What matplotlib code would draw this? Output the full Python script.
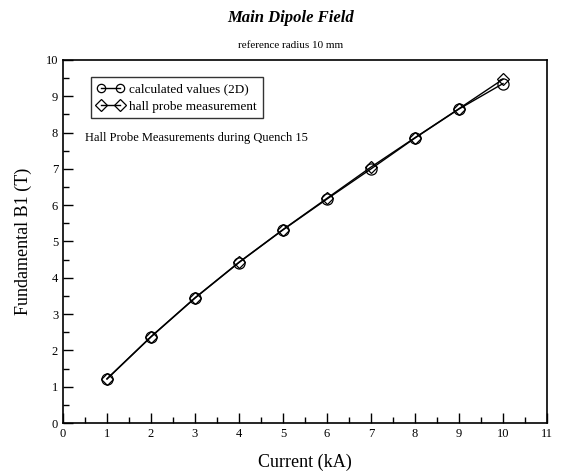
import matplotlib
matplotlib.use("Agg")
import matplotlib.pyplot as plt
from matplotlib.ticker import MultipleLocator

plt.rcParams["font.family"] = ["Liberation Serif", "DejaVu Serif"]

current_ka = [1, 2, 3, 4, 5, 6, 7, 8, 9, 10]
calc_b1 = [1.21, 2.37, 3.44, 4.42, 5.32, 6.17, 7.0, 7.85, 8.65, 9.35]
hall_b1 = [1.22, 2.38, 3.45, 4.43, 5.33, 6.19, 7.05, 7.86, 8.66, 9.47]

fig = plt.figure(figsize=(5.81, 4.75), dpi=100)
ax = fig.add_axes([63 / 581, 1 - 423 / 475, 484 / 581, 363 / 475])

ax.plot(current_ka, calc_b1, color="black", lw=1.0, marker="o", ms=8,
        mfc="none", mec="black", mew=0.9, label="calculated values (2D)")
ax.plot(current_ka, hall_b1, color="black", lw=1.0, marker="D", ms=6,
        mfc="none", mec="black", mew=0.9, label="hall probe measurement")

ax.set_xlim(0, 11)
ax.set_ylim(0, 10)
ax.xaxis.set_major_locator(MultipleLocator(1))
ax.xaxis.set_minor_locator(MultipleLocator(0.5))
ax.yaxis.set_major_locator(MultipleLocator(1))
ax.yaxis.set_minor_locator(MultipleLocator(0.5))
ax.tick_params(which="both", direction="in", top=False, right=False, labelsize=9)
ax.tick_params(which="major", length=7, width=1)
ax.tick_params(which="minor", length=4, width=1)
for s in ax.spines.values():
    s.set_linewidth(1.2)

ax.set_xlabel("Current (kA)", fontsize=13, labelpad=10)
ax.set_ylabel("Fundamental B1 (T)", fontsize=13, labelpad=10)

fig.text(0.5, 1 - 18 / 475, "Main Dipole Field", ha="center", va="center",
         fontsize=12, fontweight="bold", fontstyle="italic")
fig.text(0.5, 1 - 45 / 475, "reference radius 10 mm", ha="center", va="center",
         fontsize=8)

leg = ax.legend(loc="upper left", bbox_to_anchor=(0.045, 0.97), fontsize=9.5,
                frameon=True, fancybox=False, edgecolor="black", numpoints=2,
                handlelength=2.0, borderpad=0.45, labelspacing=0.35,
                handletextpad=0.4)
leg.get_frame().set_linewidth(1.0)
for h in leg.legend_handles:
    h.set_markersize(6)

ax.text(0.045, 0.785, "Hall Probe Measurements during Quench 15",
        transform=ax.transAxes, fontsize=9, ha="left", va="center")

fig.savefig("out.png", dpi=100)
